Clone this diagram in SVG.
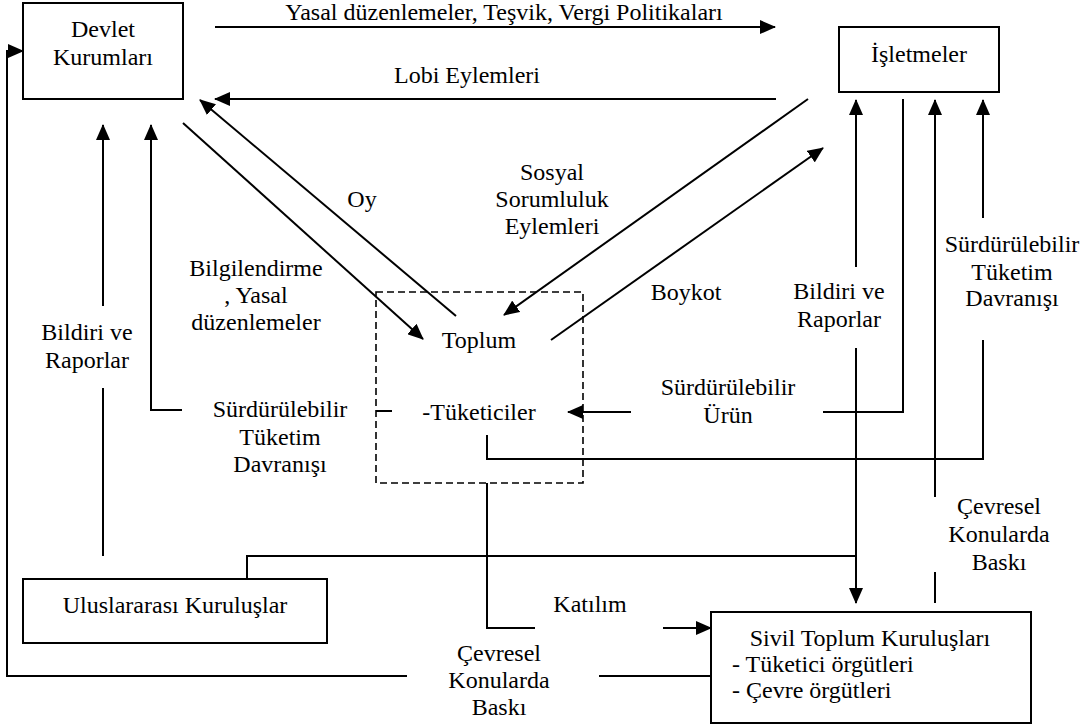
<svg xmlns="http://www.w3.org/2000/svg" width="1088" height="726" viewBox="0 0 1088 726">
<defs>
<marker id="ah" markerUnits="userSpaceOnUse" markerWidth="16" markerHeight="14" refX="15" refY="7" orient="auto">
<path d="M0,0 L16,7 L0,14 z" fill="#000"/>
</marker>
<style>
.t{font-family:"Liberation Serif","Times New Roman",serif;font-size:24px;fill:#000;text-anchor:middle}
.ts{font-family:"Liberation Serif","Times New Roman",serif;font-size:24px;fill:#000}
.box{fill:#fff;stroke:#000;stroke-width:2}
.c{fill:none;stroke:#000;stroke-width:2}
.a{fill:none;stroke:#000;stroke-width:2;marker-end:url(#ah)}
.dash{fill:none;stroke:#000;stroke-width:1.6;stroke-dasharray:7,4}
</style>
</defs>
<rect width="1088" height="726" fill="#fff"/>
<g id="connectors">
<path class="a" d="M215,27 L775,27"/>
<path class="a" d="M776,99 L215,99"/>
<path class="a" d="M456,316 L200,100"/>
<path class="a" d="M183,123 L423,339"/>
<path class="a" d="M808,99 L504,315"/>
<path class="a" d="M551,340 L823,148"/>
<path class="a" d="M856,267 L856,100"/>
<path class="a" d="M856,348 L856,603"/>
<path class="c" d="M903,99 L903,412 L823,412"/>
<path class="a" d="M631,412 L568,412"/>
<path class="a" d="M935,497 L935,100"/>
<path class="c" d="M935,572 L935,603"/>
<path class="a" d="M983,218 L983,100"/>
<path class="c" d="M983,340 L983,459 L487,459 L487,435"/>
<path class="a" d="M103,306 L103,125"/>
<path class="c" d="M103,388 L103,556"/>
<path class="a" d="M182,410 L151,410 L151,125"/>
<path class="c" d="M376,411 L392,411"/>
<path class="c" d="M247,579 L247,556 L855,556"/>
<path class="a" d="M407,676 L7,676 L7,51 L23,51"/>
<path class="c" d="M599,676 L711,676"/>
<path class="c" d="M487,483 L487,628 L535,628"/>
<path class="a" d="M663,628 L711,628"/>
</g>
<g id="devlet">
<rect class="box" x="23" y="3" width="160" height="96"/>
<text class="t" x="103" y="37">Devlet</text>
<text class="t" x="103" y="65">Kurumları</text>
</g>
<g id="isletmeler">
<rect class="box" x="839" y="27" width="160" height="65"/>
<text class="t" x="919" y="62">İşletmeler</text>
</g>
<g id="toplum">
<rect class="dash" x="376" y="292" width="207" height="191"/>
<text class="t" x="479" y="348">Toplum</text>
<text class="t" x="479" y="420">-Tüketiciler</text>
</g>
<g id="uluslararasi">
<rect class="box" x="23" y="579" width="304" height="64"/>
<text class="t" x="175" y="613">Uluslararası Kuruluşlar</text>
</g>
<g id="sivil">
<rect class="box" x="711" y="612" width="320" height="111"/>
<text class="t" x="870" y="646">Sivil Toplum Kuruluşları</text>
<text class="ts" x="732" y="672">- Tüketici örgütleri</text>
<text class="ts" x="732" y="698">- Çevre örgütleri</text>
</g>
<g id="labels">
<text class="t" x="504" y="20">Yasal düzenlemeler, Teşvik, Vergi Politikaları</text>
<text class="t" x="467" y="83">Lobi Eylemleri</text>
<text class="t" x="362" y="207">Oy</text>
<text class="t" x="552" y="180">Sosyal</text>
<text class="t" x="552" y="207">Sorumluluk</text>
<text class="t" x="552" y="234">Eylemleri</text>
<text class="t" x="256" y="276">Bilgilendirme</text>
<text class="t" x="256" y="303">, Yasal</text>
<text class="t" x="256" y="330">düzenlemeler</text>
<text class="t" x="686" y="300">Boykot</text>
<text class="t" x="839" y="299">Bildiri ve</text>
<text class="t" x="839" y="327">Raporlar</text>
<text class="t" x="1012" y="252">Sürdürülebilir</text>
<text class="t" x="1012" y="280">Tüketim</text>
<text class="t" x="1012" y="306">Davranışı</text>
<text class="t" x="728" y="395">Sürdürülebilir</text>
<text class="t" x="728" y="423">Ürün</text>
<text class="t" x="87" y="340">Bildiri ve</text>
<text class="t" x="87" y="368">Raporlar</text>
<text class="t" x="280" y="417">Sürdürülebilir</text>
<text class="t" x="280" y="445">Tüketim</text>
<text class="t" x="280" y="472">Davranışı</text>
<text class="t" x="590" y="612">Katılım</text>
<text class="t" x="499" y="661">Çevresel</text>
<text class="t" x="499" y="688">Konularda</text>
<text class="t" x="499" y="715">Baskı</text>
<text class="t" x="999" y="514">Çevresel</text>
<text class="t" x="999" y="542">Konularda</text>
<text class="t" x="999" y="570">Baskı</text>
</g>
</svg>
